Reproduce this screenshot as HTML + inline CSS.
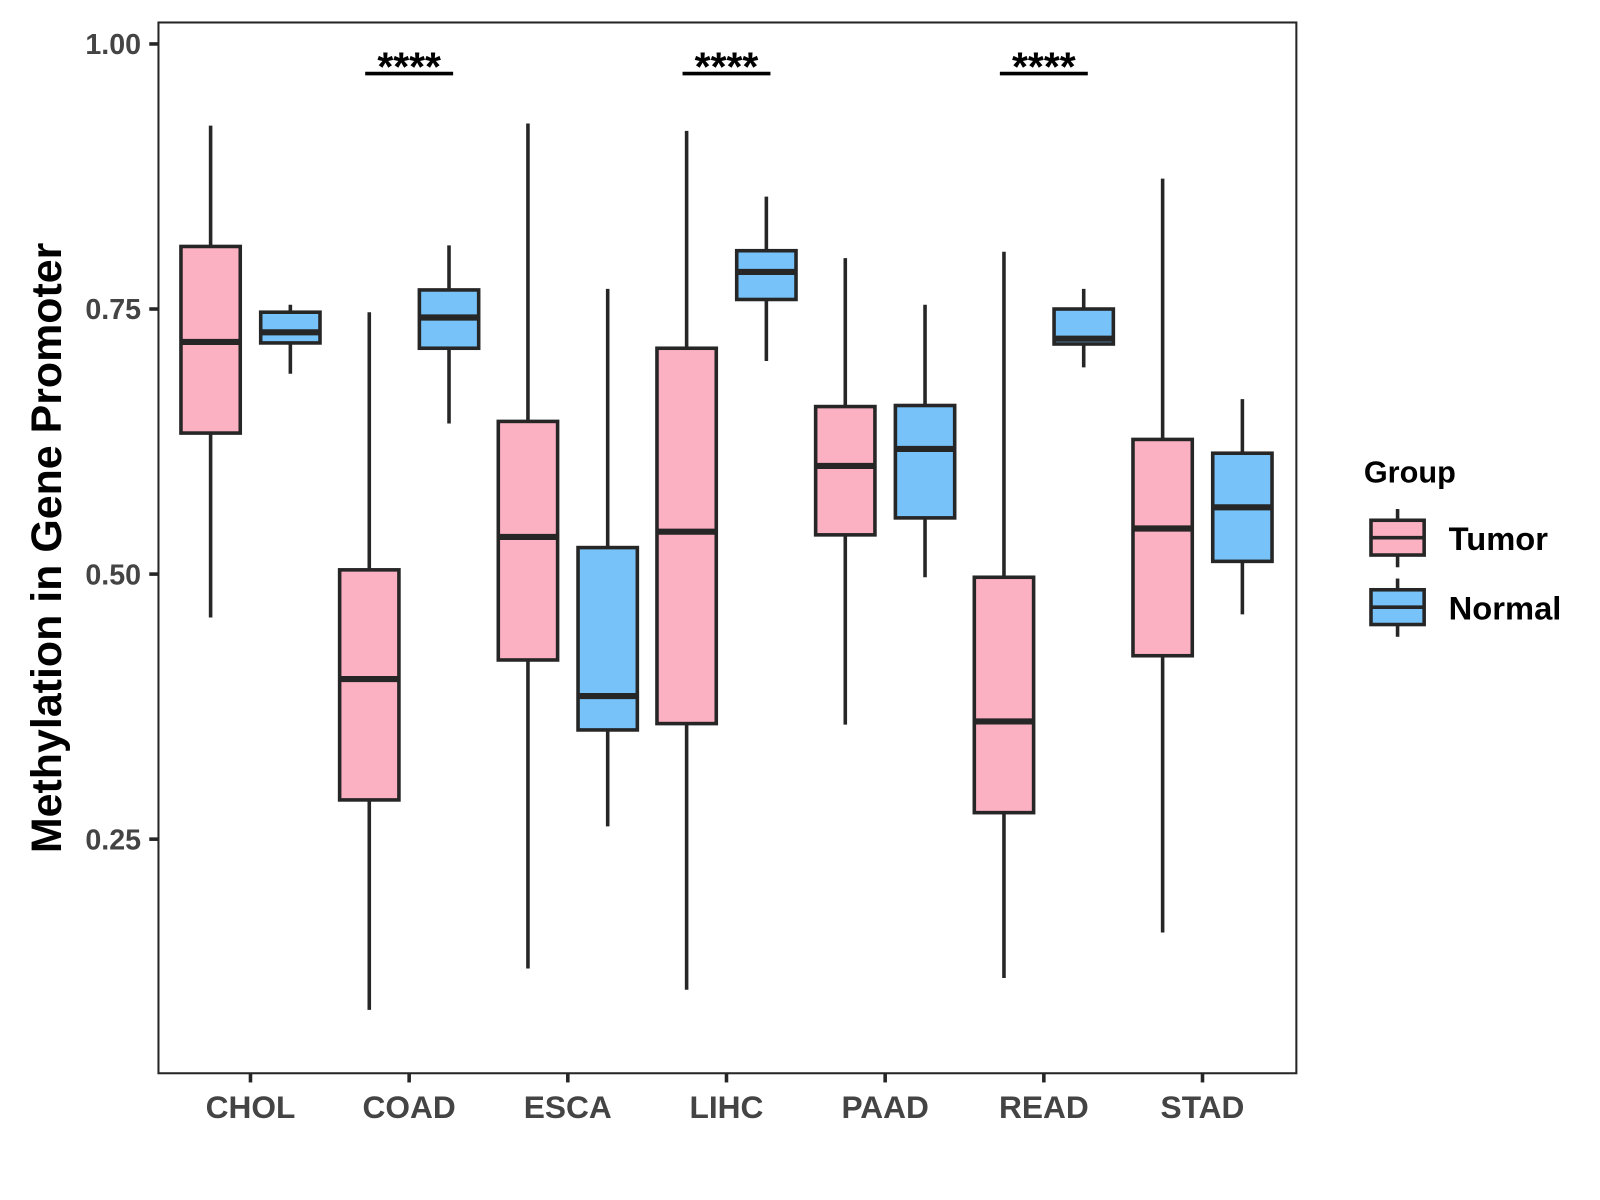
<!DOCTYPE html>
<html><head><meta charset="utf-8"><style>
html,body{margin:0;padding:0;background:#fff;}
svg{display:block;font-family:"Liberation Sans",Arial,sans-serif;}
</style></head><body>
<svg id="chart" width="1600" height="1200" viewBox="0 0 1565 1174" preserveAspectRatio="none" xmlns="http://www.w3.org/2000/svg">
<rect x="155" y="22" width="1113" height="1028" fill="#fff" stroke="#262626" stroke-width="2"/>
<g id="marks"></g>
<text transform="translate(45,536) rotate(-90)" text-anchor="middle" font-size="42" font-weight="bold" fill="#000" dy="0.35em">Methylation in Gene Promoter</text>
<g>
<text x="1334" y="472" font-size="30" font-weight="bold" fill="#000">Group</text>
<g>
<line x1="1367" y1="498" x2="1367" y2="555" stroke="#262626" stroke-width="3.5"/>
<rect x="1341" y="509" width="52" height="34" fill="#FCB1C3" stroke="#262626" stroke-width="3.5"/>
<line x1="1341" y1="526" x2="1393" y2="526" stroke="#262626" stroke-width="3.5"/>
<text x="1417" y="538" font-size="32" font-weight="bold" fill="#000">Tumor</text>
</g>
<g>
<line x1="1367" y1="566" x2="1367" y2="623" stroke="#262626" stroke-width="3.5"/>
<rect x="1341" y="577" width="52" height="34" fill="#77C2F8" stroke="#262626" stroke-width="3.5"/>
<line x1="1341" y1="594" x2="1393" y2="594" stroke="#262626" stroke-width="3.5"/>
<text x="1417" y="606" font-size="32" font-weight="bold" fill="#000">Normal</text>
</g>
</g>
</svg>
<script>
const categories=["CHOL","COAD","ESCA","LIHC","PAAD","READ","STAD"];
const tumorLow=[0.459,0.089,0.128,0.108,0.358,0.119,0.162];
const tumorQ1=[0.633,0.287,0.419,0.359,0.537,0.275,0.423];
const tumorMed=[0.719,0.401,0.535,0.540,0.602,0.361,0.543];
const tumorQ3=[0.809,0.504,0.644,0.713,0.658,0.497,0.627];
const tumorHigh=[0.923,0.747,0.925,0.918,0.798,0.804,0.873];
const normalLow=[0.689,0.642,0.262,0.701,0.497,0.695,0.462];
const normalQ1=[0.718,0.713,0.353,0.759,0.553,0.717,0.512];
const normalMed=[0.728,0.742,0.385,0.785,0.618,0.722,0.563];
const normalQ3=[0.747,0.768,0.525,0.805,0.659,0.750,0.614];
const normalHigh=[0.754,0.810,0.769,0.856,0.754,0.769,0.665];
const yTicks=[0.25,0.50,0.75,1.00];
const yTickLabels=["0.25","0.50","0.75","1.00"];
const sigCats=["COAD","LIHC","READ"];
const sigLabel="****";

const NS="http://www.w3.org/2000/svg";
function y(v){return 43+(1-v)*1037.3;}
function x(i){return 245+i*155.2;}
const g=document.getElementById('marks');
function el(tag,attrs){const e=document.createElementNS(NS,tag);for(const k in attrs)e.setAttribute(k,attrs[k]);g.appendChild(e);return e;}
const ink="#262626";
yTicks.forEach((v,i)=>{
  const t=el('line',{x1:146,x2:155,y1:y(v),y2:y(v),stroke:ink,'stroke-width':3.5});
  
  
  const l=el('text',{x:138,y:y(v)+10,'text-anchor':'end','font-size':28,'font-weight':'bold',fill:'#444'});
  l.textContent=yTickLabels[i];
  
  
});
categories.forEach((c,i)=>{
  const t=el('line',{x1:x(i),x2:x(i),y1:1050,y2:1059,stroke:ink,'stroke-width':3.5});
  
  
  const l=el('text',{x:x(i),y:1094,'text-anchor':'middle','font-size':31,'font-weight':'bold',fill:'#444'});
  l.textContent=c;
  
  
});
function box(cx,lo,q1,md,q3,hi,fill,name){
  const w=58;
  const wh=el('line',{x1:cx,x2:cx,y1:y(hi),y2:y(lo),stroke:ink,'stroke-width':3.5});
  
  
  const r=el('rect',{x:cx-w/2,y:y(q3),width:w,height:y(q1)-y(q3),fill:fill,stroke:ink,'stroke-width':3.5});
  
  
  const m=el('line',{x1:cx-w/2,x2:cx+w/2,y1:y(md),y2:y(md),stroke:ink,'stroke-width':6});
  
  
}
categories.forEach((c,i)=>{
  box(x(i)-39,tumorLow[i],tumorQ1[i],tumorMed[i],tumorQ3[i],tumorHigh[i],"#FCB1C3",c.toLowerCase()+'-tumor');
  box(x(i)+39,normalLow[i],normalQ1[i],normalMed[i],normalQ3[i],normalHigh[i],"#77C2F8",c.toLowerCase()+'-normal');
});
sigCats.forEach(c=>{
  const i=categories.indexOf(c);
  const b=el('line',{x1:x(i)-43,x2:x(i)+43,y1:72,y2:72,stroke:'#000','stroke-width':3.5});
  
  
  const t=el('text',{x:x(i),y:79,'text-anchor':'middle','font-size':40,'font-weight':'bold',fill:'#000'});
  t.textContent=sigLabel;
  
  
});
</script>
</body></html>
